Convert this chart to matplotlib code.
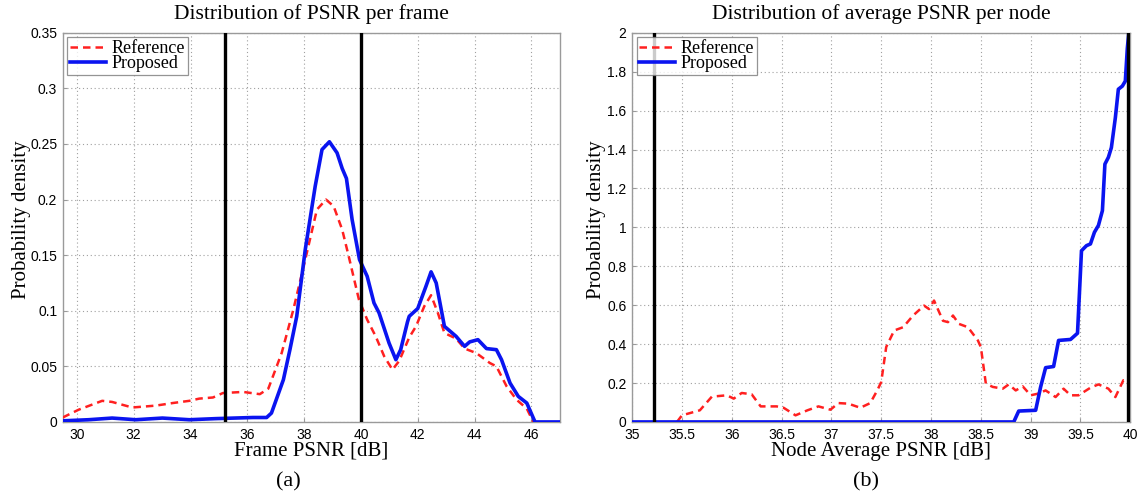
import matplotlib
matplotlib.use("Agg")
import matplotlib.pyplot as plt
from matplotlib.ticker import FuncFormatter, MultipleLocator

# ---------------- Data: panel (a) ----------------
a_prop_x = [29.5, 30.41, 31.24, 32.07, 33.01, 33.96, 34.9, 36.2, 36.68, 36.85, 37.27, 37.5,
            37.74, 38.04, 38.39, 38.63, 38.89, 39.16, 39.34, 39.49, 39.69, 39.95, 40.22,
            40.46, 40.64, 40.99, 41.23, 41.4, 41.64, 41.7, 42.0, 42.29, 42.47, 42.65, 42.94,
            43.35, 43.65, 43.83, 44.12, 44.42, 44.77, 44.95, 45.25, 45.54, 45.84, 46.13, 47.0]
a_prop_y = [0.001, 0.002, 0.0035, 0.002, 0.0035, 0.002, 0.003, 0.004, 0.004, 0.008, 0.038, 0.065,
            0.095, 0.155, 0.212, 0.245, 0.252, 0.242, 0.228, 0.219, 0.182, 0.146, 0.131,
            0.107, 0.098, 0.071, 0.056, 0.065, 0.090, 0.095, 0.102, 0.122, 0.135, 0.125, 0.086,
            0.077, 0.068, 0.072, 0.074, 0.066, 0.065, 0.056, 0.035, 0.023, 0.017, 0.0, 0.0]

a_ref_x = [29.5, 30.06, 30.89, 31.24, 31.95, 32.78, 33.37, 33.96, 34.31, 34.79, 35.14, 35.85,
           36.44, 36.74, 37.21, 37.62, 38.04, 38.45, 38.77, 39.04, 39.34, 39.57, 39.93,
           40.22, 40.52, 40.82, 41.11, 41.35, 41.7, 41.94, 42.23, 42.47, 42.71, 42.94,
           43.35, 43.65, 44.06, 44.54, 44.77, 45.13, 45.48, 45.84, 46.07]
a_ref_y = [0.004, 0.011, 0.019, 0.018, 0.013, 0.0147, 0.017, 0.019, 0.021, 0.022, 0.026, 0.027,
           0.025, 0.030, 0.062, 0.101, 0.146, 0.191, 0.200, 0.194, 0.173, 0.149, 0.110,
           0.092, 0.077, 0.059, 0.047, 0.055, 0.076, 0.086, 0.104, 0.114, 0.098, 0.080,
           0.075, 0.066, 0.062, 0.053, 0.050, 0.032, 0.020, 0.012, 0.0]

a_vlines = [35.2, 40.0]

# ---------------- Data: panel (b) ----------------
b_ref_x = [35.45, 35.5, 35.68, 35.8, 35.95, 36.02, 36.1, 36.2, 36.29, 36.45, 36.52, 36.64,
           36.76, 36.87, 36.99, 37.07, 37.17, 37.29, 37.39, 37.46, 37.5, 37.55, 37.63,
           37.72, 37.82, 37.93, 37.98, 38.03, 38.12, 38.17, 38.22, 38.28, 38.37, 38.47,
           38.5, 38.55, 38.62, 38.72, 38.78, 38.85, 38.92, 39.0, 39.07, 39.15, 39.25,
           39.33, 39.4, 39.48, 39.6, 39.68, 39.78, 39.85, 39.93, 39.97]
b_ref_y = [0.0, 0.034, 0.06, 0.13, 0.137, 0.12, 0.149, 0.142, 0.08, 0.08, 0.073, 0.034,
           0.06, 0.08, 0.063, 0.097, 0.094, 0.073, 0.097, 0.162, 0.205, 0.385, 0.47,
           0.487, 0.547, 0.598, 0.58, 0.624, 0.52, 0.513, 0.547, 0.504, 0.487, 0.419,
           0.385, 0.197, 0.18, 0.171, 0.193, 0.162, 0.183, 0.137, 0.145, 0.162, 0.128,
           0.171, 0.137, 0.137, 0.176, 0.193, 0.171, 0.128, 0.214, 0.21]

b_prop_x = [35.0, 38.83, 38.88, 39.05, 39.1, 39.15, 39.23, 39.28, 39.4, 39.47, 39.51, 39.56,
            39.6, 39.64, 39.68, 39.72, 39.745, 39.78, 39.81, 39.85, 39.88, 39.92, 39.95,
            39.97, 39.985]
b_prop_y = [0.0, 0.0, 0.056, 0.06, 0.18, 0.279, 0.285, 0.419, 0.424, 0.456, 0.88, 0.906,
            0.915, 0.975, 1.01, 1.086, 1.325, 1.36, 1.41, 1.564, 1.71, 1.726, 1.752,
            1.92, 2.0]

b_vlines = [35.22, 39.98]

# ---------------- Styling ----------------
serif = ["Liberation Serif", "DejaVu Serif"]
sans = ["Liberation Sans", "DejaVu Sans"]
plt.rcParams["font.family"] = sans

fig = plt.figure(figsize=(11.4, 4.97), dpi=100)
ax1 = fig.add_axes([0.055, 0.151, 0.436, 0.783])
ax2 = fig.add_axes([0.5545, 0.151, 0.437, 0.783])

fmt = FuncFormatter(lambda v, p: "%g" % round(v, 4))


def style(ax):
    ax.grid(True, linestyle=(0, (1, 2.5)), color="#a0a0a0", linewidth=0.8)
    for s in ax.spines.values():
        s.set_color("#9a9a9a")
        s.set_linewidth(1.0)
    ax.tick_params(direction="in", length=3, color="#9a9a9a", labelsize=10,
                   pad=4)
    ax.xaxis.set_major_formatter(fmt)
    ax.yaxis.set_major_formatter(fmt)
    for lab in ax.get_xticklabels() + ax.get_yticklabels():
        lab.set_family(sans)


# Panel (a)
ax1.plot(a_ref_x, a_ref_y, color="#ff2020", linestyle=(0, (3, 2)), linewidth=1.8,
         label="Reference", zorder=3)
ax1.plot(a_prop_x, a_prop_y, color="#0a14f0", linewidth=2.6, label="Proposed", zorder=4)
for v in a_vlines:
    ax1.axvline(v, color="black", linewidth=2.4, zorder=5)
ax1.set_xlim(29.5, 47)
ax1.set_ylim(0, 0.35)
ax1.xaxis.set_major_locator(MultipleLocator(2))
ax1.yaxis.set_major_locator(MultipleLocator(0.05))
style(ax1)
ax1.set_title("Distribution of PSNR per frame", family=serif, fontsize=15.5, pad=10)
ax1.set_xlabel("Frame PSNR [dB]", family=serif, fontsize=15, labelpad=0)
ax1.set_ylabel("Probability density", family=serif, fontsize=15)
ax1.yaxis.set_label_coords(-0.064, 0.52)

# Panel (b)
ax2.plot(b_ref_x, b_ref_y, color="#ff2020", linestyle=(0, (3, 2)), linewidth=1.8,
         label="Reference", zorder=3)
ax2.plot(b_prop_x, b_prop_y, color="#0a14f0", linewidth=2.6, label="Proposed", zorder=4)
for v in b_vlines:
    ax2.axvline(v, color="black", linewidth=2.4, zorder=5)
ax2.set_xlim(35, 40)
ax2.set_ylim(0, 2)
ax2.xaxis.set_major_locator(MultipleLocator(0.5))
ax2.yaxis.set_major_locator(MultipleLocator(0.2))
style(ax2)
ax2.set_title("Distribution of average PSNR per node", family=serif, fontsize=15.5, pad=10)
ax2.set_xlabel("Node Average PSNR [dB]", family=serif, fontsize=15, labelpad=0)
ax2.set_ylabel("Probability density", family=serif, fontsize=15)
ax2.yaxis.set_label_coords(-0.052, 0.52)

for ax in (ax1, ax2):
    leg = ax.legend(loc="upper left", prop={"family": serif, "size": 13},
                    frameon=True, fancybox=False, borderpad=0.15, labelspacing=-0.12,
                    handlelength=2.0, handletextpad=0.3, borderaxespad=0.25)
    leg.get_frame().set_edgecolor("#7a7a7a")
    leg.get_frame().set_linewidth(0.9)
    leg.set_zorder(10)

fig.text(288 / 1140, 1 - 482 / 497, "(a)", family=serif, fontsize=16,
         ha="center", va="center")
fig.text(866 / 1140, 1 - 482 / 497, "(b)", family=serif, fontsize=16,
         ha="center", va="center")

fig.savefig("out.png", dpi=100, facecolor="white")
